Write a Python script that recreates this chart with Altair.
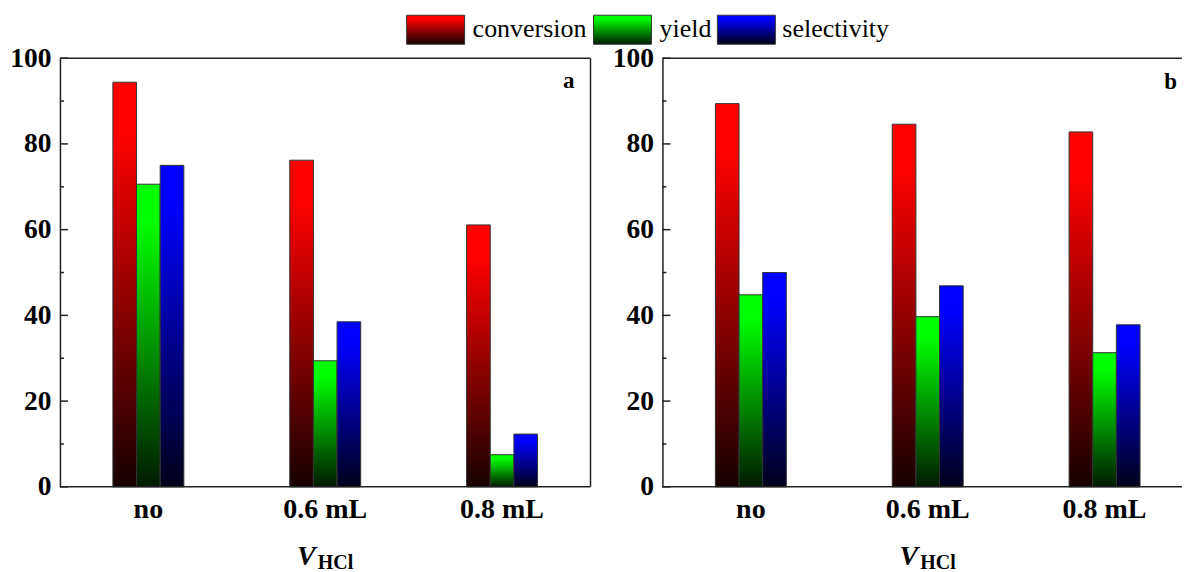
import altair as alt
import pandas as pd

# Reaction results for two catalyst sets, grouped by added HCl volume
categories = ["no", "0.6 mL", "0.8 mL"]
series_names = ["conversion", "yield", "selectivity"]

a_conversion = [94.4, 76.2, 61.1]
a_yield = [70.6, 29.4, 7.5]
a_selectivity = [75.0, 38.5, 12.3]

b_conversion = [89.4, 84.6, 82.8]
b_yield = [44.8, 39.7, 31.3]
b_selectivity = [50.0, 46.9, 37.8]

major_ticks = [0, 20, 40, 60, 80, 100]
minor_ticks = [10, 30, 50, 70, 90]

FONT = "Liberation Serif"
LINE = "#222222"
W, H = 531, 429


def gradient(top, bottom):
    return alt.LinearGradient(
        gradient="linear",
        stops=[
            alt.GradientStop(color=top, offset=0),
            alt.GradientStop(color=top, offset=0.12),
            alt.GradientStop(color=bottom, offset=1),
        ],
        x1=0, x2=0, y1=0, y2=1,
    )


fills = {
    "conversion": gradient("#ff0000", "#160000"),
    "yield": gradient("#00ff00", "#001a00"),
    "selectivity": gradient("#0000ff", "#00001a"),
}


def frame(conv, yld, sel):
    rows = []
    for name, vals in zip(series_names, [conv, yld, sel]):
        for c, v in zip(categories, vals):
            rows.append({"cat": c, "series": name, "v": v})
    return pd.DataFrame(rows)


y_scale = alt.Scale(domain=[0, 100], nice=False)
y_axis = alt.Axis(
    values=major_ticks, ticks=False, grid=False, title=None,
    domainColor=LINE, domainWidth=1.5,
    labelFont=FONT, labelFontWeight="bold", labelFontSize=27.5,
    labelColor="black", labelPadding=9,
)
# three bars of one group sit in the middle 71 px of each 177 px band
off_scale = alt.Scale(domain=series_names, paddingInner=0, paddingOuter=0, range=[53, 124])

blank = alt.Data(values=[{"k": 1}])


def hline(x0, x1, y):
    return (
        alt.Chart(blank).mark_rule(color=LINE, strokeWidth=1.5)
        .encode(x=alt.value(x0), x2=alt.value(x1), y=alt.value(y))
    )


def panel(df, letter, width, right_border=True, legend=False):
    x_scale = alt.Scale(domain=categories, paddingInner=0, paddingOuter=0, range=[0, W])
    x_enc = alt.X("cat:N", scale=x_scale, axis=None, sort=categories)

    layers = []
    for name in series_names:
        layers.append(
            alt.Chart(df)
            .transform_filter(alt.datum.series == name)
            .mark_bar(fill=fills[name], stroke="#333333", strokeWidth=1)
            .encode(
                x=x_enc,
                xOffset=alt.XOffset("series:N", scale=off_scale),
                y=alt.Y("v:Q", scale=y_scale, axis=y_axis),
            )
        )

    # category labels under each group
    layers.append(
        alt.Chart(pd.DataFrame({"cat": categories}))
        .mark_text(font=FONT, fontWeight="bold", fontSize=28, baseline="top",
                   align="center", color="black")
        .encode(x=x_enc, y=alt.value(H + 9), text="cat:N")
    )

    # inward ticks on the left axis
    layers.append(
        alt.Chart(pd.DataFrame({"v": major_ticks}))
        .mark_rule(color=LINE, strokeWidth=1.5)
        .encode(y=alt.Y("v:Q", scale=y_scale, axis=y_axis), x=alt.value(0), x2=alt.value(8))
    )
    layers.append(
        alt.Chart(pd.DataFrame({"v": minor_ticks}))
        .mark_rule(color=LINE, strokeWidth=1.5)
        .encode(y=alt.Y("v:Q", scale=y_scale, axis=y_axis), x=alt.value(0), x2=alt.value(4))
    )

    # frame lines (top and bottom; right side only where it is in view)
    layers.append(hline(0, width, 0))
    layers.append(hline(0, width, H))
    if right_border:
        layers.append(
            alt.Chart(blank).mark_rule(color=LINE, strokeWidth=1.5)
            .encode(x=alt.value(width), y=alt.value(0), y2=alt.value(H))
        )

    # panel letter
    layers.append(
        alt.Chart(blank).mark_text(
            text=letter, font=FONT, fontWeight="bold", fontSize=23,
            align="right", baseline="alphabetic", color="black",
        ).encode(x=alt.value(515), y=alt.value(30 if letter == "a" else 31))
    )

    # axis title V_HCl
    layers.append(
        alt.Chart(blank).mark_text(
            text="V", font=FONT, fontWeight="bold", fontStyle="italic", fontSize=28,
            align="right", baseline="alphabetic", color="black",
        ).encode(x=alt.value(256), y=alt.value(507))
    )
    layers.append(
        alt.Chart(blank).mark_text(
            text="HCl", font=FONT, fontWeight="bold", fontSize=20,
            align="left", baseline="alphabetic", color="black",
        ).encode(x=alt.value(258), y=alt.value(511))
    )

    if legend:
        key_x = [347, 534, 658]
        text_x = [413, 600, 723]
        for name, kx, tx in zip(series_names, key_x, text_x):
            layers.append(
                alt.Chart(blank).mark_rect(fill=fills[name], stroke="#333333", strokeWidth=1)
                .encode(x=alt.value(kx), x2=alt.value(kx + 58), y=alt.value(-43), y2=alt.value(-14))
            )
            layers.append(
                alt.Chart(blank).mark_text(
                    text=name, font=FONT, fontSize=26, align="left",
                    baseline="middle", color="black",
                ).encode(x=alt.value(tx), y=alt.value(-29))
            )
        # invisible corner marks that pin the page margins around the plots
        layers.append(
            alt.Chart(blank).mark_rule(strokeOpacity=0, strokeWidth=1)
            .encode(x=alt.value(-59.5), x2=alt.value(-59), y=alt.value(-57.5))
        )
        layers.append(
            alt.Chart(blank).mark_rule(strokeOpacity=0, strokeWidth=1)
            .encode(x=alt.value(-59.5), x2=alt.value(-59), y=alt.value(H + 84.5))
        )

    return alt.layer(*layers).properties(width=width, height=H)


panel_a = panel(frame(a_conversion, a_yield, a_selectivity), "a", W, legend=True)
panel_b = panel(frame(b_conversion, b_yield, b_selectivity), "b", 520, right_border=False)

chart = (
    alt.hconcat(panel_a, panel_b, spacing=72, bounds="flush")
    .properties(padding={"left": 0, "top": 0, "right": 0, "bottom": 0}, background="white")
    .configure_view(stroke="transparent")
)

chart.save("out.html", embed_options={"renderer": "svg", "actions": False})
